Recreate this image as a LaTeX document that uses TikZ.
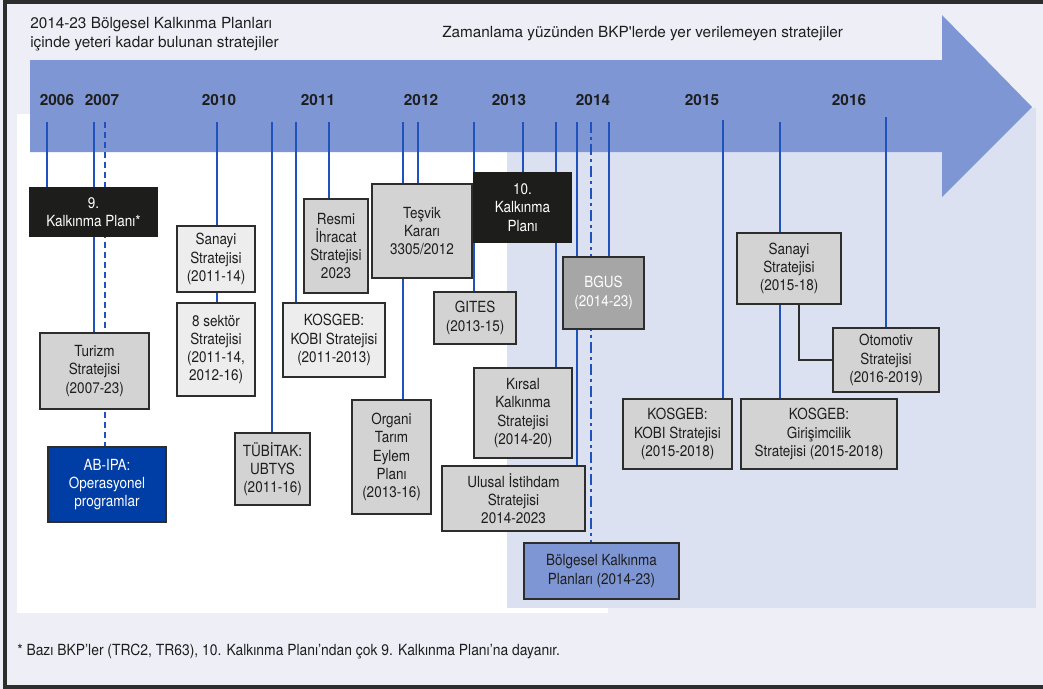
\documentclass[tikz,border=0pt]{standalone}
\usepackage{fontspec}
\newfontfamily\hel{TeX Gyre Heros}
\newfontfamily\cnd{TeX Gyre Heros}[FakeStretch=0.88]
\newfontfamily\cndnote{TeX Gyre Heros}[FakeStretch=0.905]
\definecolor{framebg}{RGB}{238,238,247}
\definecolor{panelblue}{RGB}{220,225,242}
\definecolor{band}{RGB}{127,150,212}
\definecolor{lineblue}{RGB}{32,82,190}
\definecolor{boxline}{RGB}{45,45,45}
\definecolor{gmid}{RGB}{211,211,211}
\definecolor{glight}{RGB}{237,237,237}
\definecolor{gdark}{RGB}{166,166,166}
\definecolor{nearblack}{RGB}{29,29,27}
\definecolor{ipablue}{RGB}{0,61,165}
\definecolor{txt}{RGB}{30,30,30}
\pgfdeclarelayer{back}
\pgfdeclarelayer{mid}
\pgfsetlayers{back,mid,main}
\tikzset{
  sz/.style 2 args={minimum width=#1*0.75pt, minimum height=#2*0.75pt},
  box/.style={draw=boxline, line width=1.2pt, inner sep=0pt, align=center,
    text=txt, font=\cnd\fontsize{11.5}{13.7}\selectfont},
  gbox/.style={box, fill=gmid},
  lbox/.style={box, fill=glight},
  kbox/.style={box, fill=nearblack, draw=nearblack, text=white},
  dbox/.style={box, fill=gdark, text=white},
  ibox/.style={box, fill=ipablue, text=white},
  bbox/.style={box, fill=band},
  tl/.style={draw=lineblue, line width=1.5pt},
  tldash/.style={tl, dash pattern=on 4.5pt off 3pt},
  tldot/.style={draw=lineblue, line width=2pt, dash pattern=on 8pt off 3pt on 2.5pt off 3pt},
  conn/.style={draw=boxline, line width=1.3pt},
  year/.style={font=\hel\bfseries\fontsize{11.5}{13}\selectfont, text=txt, inner sep=0pt},
  head/.style={font=\hel\fontsize{11.5}{14}\selectfont, text=txt, inner sep=0pt, anchor=base west},
  note/.style={font=\cndnote\fontsize{11.5}{14}\selectfont, text=txt, inner sep=0pt, anchor=base west},
}
\begin{document}
\begin{tikzpicture}[x=0.75pt, y=-0.75pt]
\useasboundingbox (0,0) rectangle (1043,689);
\clip (0,0) rectangle (1043,689);

% frame, panels and timeline arrow
\begin{pgfonlayer}{back}
\fill[framebg] (0,0) rectangle (1043,689);
\fill[white] (17,114) rectangle (608,613);
\fill[panelblue] (507,108) rectangle (1036,608);
\draw[boxline, line width=3pt] (5,1.5) rectangle (1070,686.5);
\fill[band] (30,60) -- (942,60) -- (942,15) -- (1032,107) -- (942,197) -- (942,152) -- (30,152) -- cycle;
\end{pgfonlayer}

% headings
\node[head] (h1) at (30,28.5) {2014-23 Bölgesel Kalkınma Planları};
\node[head] (h2) at (30,47) {içinde yeteri kadar bulunan stratejiler};
\node[head] (h3) at (442,37) {Zamanlama yüzünden BKP'lerde yer verilemeyen stratejiler};

% years
\node[year] (y06) at (57,100) {2006};
\node[year] (y07) at (102,100) {2007};
\node[year] (y10) at (219,100) {2010};
\node[year] (y11) at (318,100) {2011};
\node[year] (y12) at (421,100) {2012};
\node[year] (y13) at (509,100) {2013};
\node[year] (y14) at (593,100) {2014};
\node[year] (y15) at (702,100) {2015};
\node[year] (y16) at (849,100) {2016};

% tick anchors on the timeline
\coordinate (v47) at (47,122);
\coordinate (v94) at (94,122);
\coordinate (v105) at (105,122);
\coordinate (v217) at (217,122);
\coordinate (v272) at (272,122);
\coordinate (v296) at (296,122);
\coordinate (v329) at (329,122);
\coordinate (v403) at (403,122);
\coordinate (v418) at (418,122);
\coordinate (v474) at (474,122);
\coordinate (v523) at (523,122);
\coordinate (v556) at (556,122);
\coordinate (v577) at (577,122);
\coordinate (v591) at (591,122);
\coordinate (v609) at (609,122);
\coordinate (v723) at (723,120);
\coordinate (v780) at (780,122);
\coordinate (v886) at (886,117);

% strategy boxes
\path
  (93.5,212)   node[kbox, sz={127}{48}]  (k9)       {9.\\Kalkınma Planı*}
  (216,259)    node[lbox, sz={78}{66}]   (san11)    {Sanayi\\Stratejisi\\(2011-14)}
  (216,349.5)  node[lbox, sz={78}{93}]   (sek8)     {8 sektör\\Stratejisi\\(2011-14,\\2012-16)}
  (336,246)    node[gbox, sz={64}{94}]   (resmi)    {Resmi\\İhracat\\Stratejisi\\2023}
  (334,340)    node[lbox, sz={102}{74}]  (kobi11)   {KOSGEB:\\KOBI Stratejisi\\(2011-2013)}
  (272.5,469)  node[gbox, sz={75}{72}]   (tubitak)  {TÜBİTAK:\\UBTYS\\(2011-16)}
  (94.5,371)   node[gbox, sz={109}{76}]  (turizm)   {Turizm\\Stratejisi\\(2007-23)}
  (107,484.5)  node[ibox, sz={118}{75}]  (abipa)    {AB-IPA:\\Operasyonel\\programlar}
  (422,231)    node[gbox, sz={100}{94}]  (tesvik)   {Teşvik\\Kararı\\3305/2012}
  (522.5,207.5) node[kbox, sz={97}{69}]  (k10)      {10.\\Kalkınma\\Planı}
  (475,318)    node[gbox, sz={82}{52}]   (gites)    {GITES\\(2013-15)}
  (603.5,293)  node[dbox, sz={81}{72}]   (bgus)     {BGUS\\(2014-23)}
  (523,413)    node[gbox, sz={98}{90}]   (kirsal)   {Kırsal\\Kalkınma\\Stratejisi\\(2014-20)}
  (513.5,498.5) node[gbox, sz={143}{65}] (ulusal)   {Ulusal İstihdam\\Stratejisi\\2014-2023}
  (391.5,457)  node[gbox, sz={79}{114}]  (organi)   {Organi\\Tarım\\Eylem\\Planı\\(2013-16)}
  (601.5,571)  node[bbox, sz={155}{56}]  (bkp)      {Bölgesel Kalkınma\\Planları (2014-23)}
  (789,268.5)  node[gbox, sz={104}{71}]  (san15)    {Sanayi\\Stratejisi\\(2015-18)}
  (886,360)    node[gbox, sz={106}{64}]  (oto)      {Otomotiv\\Stratejisi\\(2016-2019)}
  (677.5,434)  node[gbox, sz={109}{70}]  (kobi15)   {KOSGEB:\\KOBI Stratejisi\\(2015-2018)}
  (819,434)    node[gbox, sz={156}{70}]  (giris)    {KOSGEB:\\Girişimcilik\\Stratejisi (2015-2018)};

% timeline drop lines, behind the boxes
\begin{pgfonlayer}{mid}
\draw[tl] (v47) -- (v47 |- k9.north);
\draw[tl] (v94) -- (v94 |- turizm.north);
\draw[tldash] (v105) -- (v105 |- abipa.north);
\draw[tl] (v217) -- (v217 |- san11.north);
\draw[tl] (v217 |- san11.south) -- (v217 |- sek8.north);
\draw[tl] (v272) -- (v272 |- tubitak.north);
\draw[tl] (v296) -- (v296 |- kobi11.north);
\draw[tl] (v329) -- (v329 |- resmi.north);
\draw[tl] (v403) -- (v403 |- organi.north);
\draw[tl] (v418) -- (v418 |- tesvik.north);
\draw[tl] (v474) -- (v474 |- gites.north);
\draw[tl] (v523) -- (v523 |- k10.north);
\draw[tl] (v556) -- (v556 |- kirsal.north);
\draw[tl] (v577) -- (v577 |- ulusal.north);
\draw[tldot] (v591) -- (v591 |- bkp.north);
\draw[tl] (v609) -- (v609 |- bgus.north);
\draw[tl] (v723) -- (v723 |- kobi15.north);
\draw[tl] (v780) -- (v780 |- san15.north);
\draw[tl] (v780 |- san15.south) -- (v780 |- giris.north);
\draw[tl] (v886) -- (v886 |- oto.north);
\coordinate (c799) at (799,304);
\draw[conn] (c799 |- san15.south) |- (oto.west);
\end{pgfonlayer}

% footnote
\node[note] (fn) at (17,655) {* Bazı BKP’ler (TRC2, TR63), 10. Kalkınma Planı’ndan çok 9. Kalkınma Planı’na dayanır.};
\end{tikzpicture}
\end{document}
